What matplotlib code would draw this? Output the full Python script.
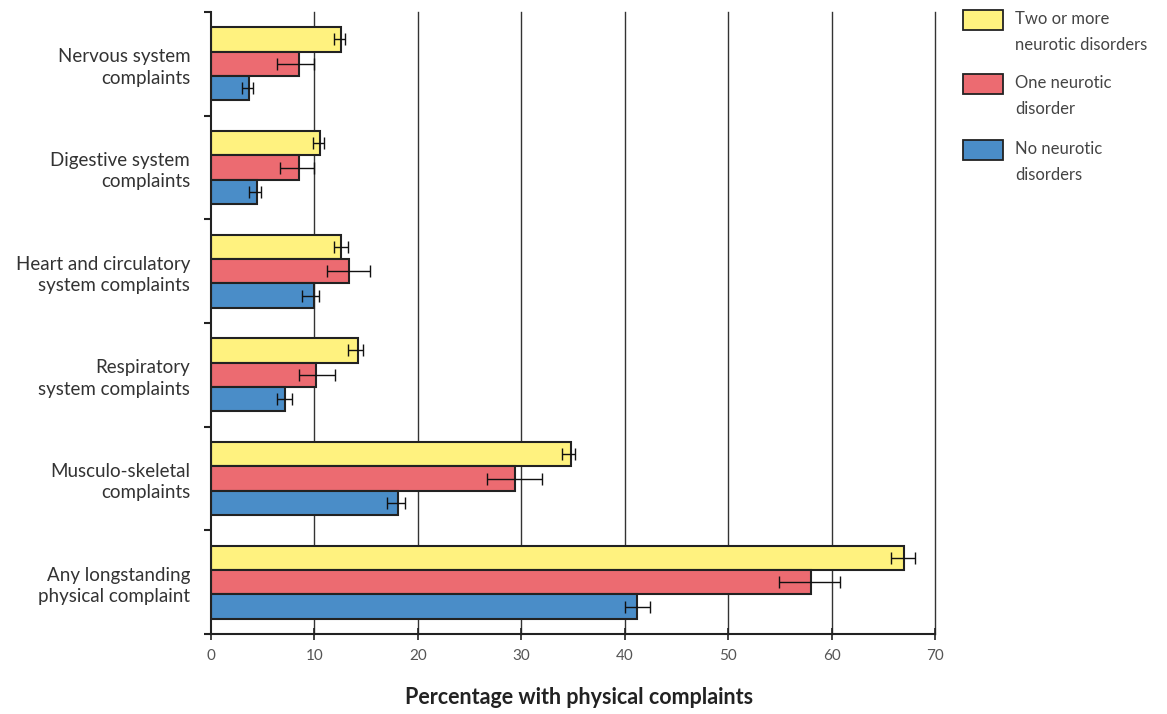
import matplotlib
matplotlib.use("Agg")
import matplotlib.pyplot as plt
import numpy as np
from matplotlib.patches import Rectangle

categories = ["Nervous system\ncomplaints", "Digestive system\ncomplaints",
              "Heart and circulatory\nsystem complaints", "Respiratory\nsystem complaints",
              "Musculo-skeletal\ncomplaints", "Any longstanding\nphysical complaint"]
series_names = ["Two or more\nneurotic disorders", "One neurotic\ndisorder", "No neurotic\ndisorders"]

two_plus = [12.6, 10.5, 12.6, 14.2, 34.8, 67.0]
two_plus_lo = [11.9, 9.9, 11.9, 13.2, 33.9, 65.7]
two_plus_hi = [13.0, 10.9, 13.2, 14.7, 35.2, 68.1]

one = [8.5, 8.5, 13.3, 10.2, 29.4, 58.0]
one_lo = [6.4, 6.7, 11.2, 8.5, 26.7, 54.9]
one_hi = [10.0, 10.0, 15.4, 12.0, 32.0, 60.8]

none = [3.7, 4.4, 10.0, 7.2, 18.1, 41.2]
none_lo = [3.0, 3.7, 8.8, 6.4, 17.0, 40.0]
none_hi = [4.1, 4.8, 10.4, 7.8, 18.8, 42.4]

xticks = [0, 10, 20, 30, 40, 50, 60, 70]
colors = ["#FFF27F", "#EC6B71", "#4A8DC8"]

fig = plt.figure(figsize=(11.67, 7.14), dpi=100)
ax = fig.add_axes([211/1167, 1-634/714, (935-211)/1167, (634-12)/714])

y = np.arange(len(categories))
h = 0.235
offsets = [-h, 0, h]
data = [(two_plus, two_plus_lo, two_plus_hi), (one, one_lo, one_hi), (none, none_lo, none_hi)]

for xt in xticks[1:]:
    ax.axvline(xt, color="#333333", lw=1.0, zorder=0, clip_on=False)

for k, (vals, lo, hi) in enumerate(data):
    vals = np.array(vals); lo = np.array(lo); hi = np.array(hi)
    ax.barh(y + offsets[k], vals, height=h, color=colors[k], edgecolor="#222222",
            linewidth=1.5, zorder=2)
    ax.errorbar(vals, y + offsets[k], xerr=[vals - lo, hi - vals], fmt="none",
                ecolor="#111111", elinewidth=1.0, capsize=4, capthick=1.0, zorder=3)

ax.set_xlim(0, 70)
ax.set_ylim(5.5, -0.5)
ax.set_xticks(xticks)
ax.set_xticklabels([str(v) for v in xticks], color="#555555", fontsize=11, family="Lato")
ax.tick_params(axis="x", direction="inout", length=9, width=1.2, pad=6, color="#222222")

ax.set_yticks(np.arange(-0.5, 6.0, 1.0))
ax.set_yticklabels([])
ax.tick_params(axis="y", which="major", direction="out", length=5, width=1.5, color="#222222")
ax.set_yticks(y, minor=True)
ax.set_yticklabels(categories, minor=True, fontsize=13.5, color="#333333", family="Lato",
                   linespacing=1.3)
ax.tick_params(axis="y", which="minor", length=0, pad=15)

for s in ["top", "right"]:
    ax.spines[s].set_visible(False)
ax.spines["left"].set_linewidth(1.5)
ax.spines["bottom"].set_linewidth(1.5)
ax.spines["left"].set_color("#222222")
ax.spines["bottom"].set_color("#222222")

fig.text(579/1167, 1-698/714, "Percentage with physical complaints", ha="center", va="center",
         fontsize=15.5, fontweight="bold", color="#222222", family="Lato")

# legend
leg_y = [20, 84, 150]
for k in range(3):
    yc = 1 - leg_y[k]/714
    fig.add_artist(Rectangle((963/1167, yc - 10/714), 40/1167, 20/714, transform=fig.transFigure,
                             facecolor=colors[k], edgecolor="#222222", linewidth=1.3))
    fig.text(1015/1167, 1 - (leg_y[k] - 9)/714, series_names[k], ha="left", va="top",
             fontsize=12, color="#444444", family="Lato", linespacing=1.8)

fig.savefig("out.png", dpi=100)
